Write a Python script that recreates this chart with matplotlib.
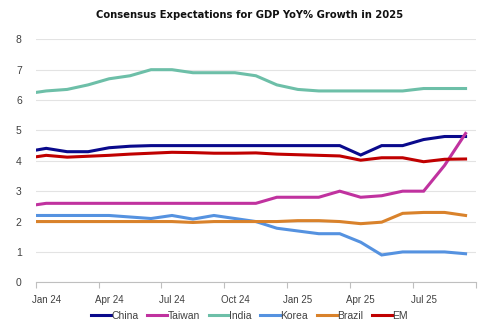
import matplotlib
matplotlib.use("Agg")
import matplotlib.pyplot as plt
from matplotlib import font_manager as fm

# x positions in months since 1 Jan 2024 (first point at start, then mid-month)
x_pos = [0] + [k + 0.5 for k in range(21)]

china  = [4.35, 4.41, 4.30, 4.30, 4.43, 4.48, 4.50, 4.50, 4.50, 4.50, 4.50, 4.50,
          4.50, 4.50, 4.50, 4.50, 4.19, 4.50, 4.50, 4.70, 4.80, 4.80]
taiwan = [2.55, 2.60, 2.60, 2.60, 2.60, 2.60, 2.60, 2.60, 2.60, 2.60, 2.60, 2.60,
          2.80, 2.80, 2.80, 3.00, 2.80, 2.85, 3.00, 3.00, 3.85, 4.90]
india  = [6.25, 6.30, 6.35, 6.50, 6.70, 6.80, 7.00, 7.00, 6.90, 6.90, 6.90, 6.80,
          6.50, 6.35, 6.30, 6.30, 6.30, 6.30, 6.30, 6.38, 6.38, 6.38]
korea  = [2.20, 2.20, 2.20, 2.20, 2.20, 2.15, 2.10, 2.20, 2.08, 2.20, 2.10, 2.00,
          1.78, 1.69, 1.60, 1.60, 1.32, 0.90, 1.00, 1.00, 1.00, 0.94]
brazil = [2.00, 2.00, 2.00, 2.00, 2.00, 2.00, 2.00, 2.00, 1.97, 2.00, 2.00, 2.00,
          2.00, 2.03, 2.03, 2.00, 1.93, 1.98, 2.27, 2.30, 2.30, 2.20]
em     = [4.13, 4.18, 4.12, 4.15, 4.18, 4.22, 4.25, 4.28, 4.27, 4.25, 4.25, 4.26,
          4.22, 4.20, 4.18, 4.16, 4.02, 4.10, 4.10, 3.97, 4.05, 4.06]

series_names = ["China", "Taiwan", "India", "Korea", "Brazil", "EM"]
series_vals = [china, taiwan, india, korea, brazil, em]
colors = ["#0a0a8c", "#c0329f", "#6dbfa8", "#5592e0", "#d9822b", "#c00000"]

tick_labels = ["Jan 24", "Apr 24", "Jul 24", "Oct 24", "Jan 25", "Apr 25", "Jul 25"]
tick_label_pos = [0.5, 3.5, 6.5, 9.5, 12.5, 15.5, 18.5]
tick_mark_pos = [0, 3, 6, 9, 12, 15, 18, 21]

# look for a condensed/narrow bold face if one is installed
cond_bold = None
for f in fm.fontManager.ttflist:
    nm = f.name
    st = str(f.stretch)
    is_cond = ("Narrow" in nm) or ("Condensed" in nm) or st in ("condensed", "semi-condensed")
    if not is_cond or f.style != "normal":
        continue
    w = f.weight if isinstance(f.weight, int) else (700 if "bold" in str(f.weight) else 400)
    if w >= 600 and cond_bold is None:
        cond_bold = f.fname

plt.rcParams["font.family"] = ["Liberation Sans", "DejaVu Sans"]

if cond_bold:
    title_fp = fm.FontProperties(fname=cond_bold, size=8.0)
else:
    title_fp = fm.FontProperties(family="Liberation Sans", weight="bold", size=8.2)

fig = plt.figure(figsize=(4.99, 3.32), dpi=100)
ax = fig.add_axes([0.0715, 0.1497, 0.8825, 0.7319])

for name, vals, c in zip(series_names, series_vals, colors):
    ax.plot(x_pos, vals, color=c, lw=2.2, label=name, solid_joinstyle="miter")

ax.set_xlim(0, 21)
ax.set_ylim(0, 8)
ax.set_yticks(range(0, 9))
ax.grid(axis="y", color="#e3e3e3", lw=0.8)
ax.set_axisbelow(True)
for s in ["top", "right", "left"]:
    ax.spines[s].set_visible(False)
ax.spines["bottom"].set_color("#bfbfbf")
ax.spines["bottom"].set_linewidth(0.8)
ax.tick_params(axis="y", length=0, pad=10, labelsize=7.5, labelcolor="#404040")

ax.set_xticks(tick_mark_pos)
ax.set_xticklabels([])
ax.tick_params(axis="x", which="major", length=4, color="#bfbfbf", width=0.8)
ax.set_xticks(tick_label_pos, minor=True)
ax.set_xticklabels(tick_labels, minor=True)
ax.tick_params(axis="x", which="minor", length=0, pad=9, labelsize=7, labelcolor="#404040")

fig.text(0.5, 0.955, "Consensus Expectations for GDP YoY% Growth in 2025",
         ha="center", va="center", fontproperties=title_fp, color="#111111")

fig.legend(loc="center", bbox_to_anchor=(0.5, 0.048), ncol=6, frameon=False,
           fontsize=7.5, handlelength=1.9, handletextpad=0.05, columnspacing=0.85,
           labelcolor="#404040")

fig.savefig("out.png", dpi=100)
